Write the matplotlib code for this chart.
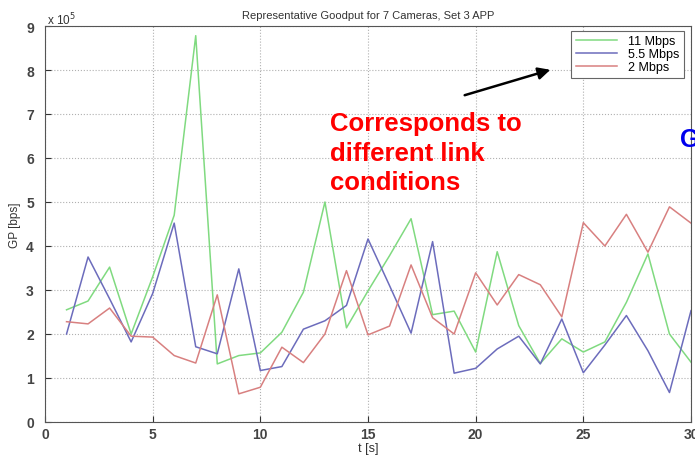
import numpy as np
import matplotlib
matplotlib.use("Agg")
import matplotlib.pyplot as plt
from matplotlib.ticker import FuncFormatter

plt.rcParams['font.family'] = ['Liberation Sans', 'DejaVu Sans']

# time axis [s]
t = list(range(1, 31))

# goodput in units of 1e5 bps
gp_11 = [2.55, 2.75, 3.52, 2.0, 3.3, 4.7, 8.78, 1.32, 1.51, 1.57,
         2.04, 2.95, 5.0, 2.14, 2.98, 3.78, 4.62, 2.44, 2.52, 1.59,
         3.87, 2.19, 1.33, 1.89, 1.59, 1.82, 2.72, 3.82, 2.0, 1.36]
gp_55 = [2.0, 3.75, 2.8, 1.82, 2.92, 4.52, 1.71, 1.55, 3.48, 1.17,
         1.26, 2.11, 2.3, 2.65, 4.16, 3.1, 2.02, 4.1, 1.11, 1.22,
         1.66, 1.95, 1.32, 2.34, 1.12, 1.75, 2.42, 1.62, 0.67, 2.53]
gp_2 = [2.28, 2.23, 2.59, 1.95, 1.93, 1.51, 1.34, 2.89, 0.64, 0.79,
        1.70, 1.35, 2.0, 3.44, 1.98, 2.18, 3.57, 2.37, 2.0, 3.39,
        2.66, 3.35, 3.12, 2.39, 4.53, 4.0, 4.72, 3.86, 4.89, 4.52]
labels = ["11 Mbps", "5.5 Mbps", "2 Mbps"]
colors = ["#80da80", "#6c6cbc", "#d88080"]

fig = plt.figure(figsize=(6.95, 4.56), dpi=100)
ax = fig.add_axes([45 / 695, 1 - 423 / 456, 646 / 695, 396 / 456])

for vals, lab, col in zip([gp_11, gp_55, gp_2], labels, colors):
    ax.plot(t, np.array(vals) * 1e5, color=col, lw=1.1, label=lab)

ax.set_xlim(0, 30)
ax.set_ylim(0, 9e5)
ax.set_xticks(range(0, 31, 5))
ax.set_yticks(np.arange(0, 10) * 1e5)
ax.yaxis.set_major_formatter(FuncFormatter(lambda v, p: f"{v / 1e5:g}"))
ax.tick_params(direction='in', labelsize=10, colors='#333333', length=4)
ax.tick_params(axis='y', pad=8)
for lbl in ax.get_xticklabels() + ax.get_yticklabels():
    lbl.set_fontweight('bold')
    lbl.set_color('#444444')
ax.grid(True, linestyle=':', color='#b0b0b0', lw=0.8)
for s in ax.spines.values():
    s.set_color('#555555')
    s.set_linewidth(0.8)

ax.set_title("Representative Goodput for 7 Cameras, Set 3 APP", fontsize=8, color='#333333', pad=6)
ax.set_xlabel("t [s]", fontsize=9, color='#333333', labelpad=1)
ax.set_ylabel("GP [bps]", fontsize=8.5, color='#333333', labelpad=4)
fig.text(47 / 695, 1 - 20 / 456, r"x 10$^5$", fontsize=8.5, color='#333333', va='center')

leg = ax.legend(loc='upper right', bbox_to_anchor=(684 / 695, 1 - 32 / 456),
                bbox_transform=fig.transFigure, fontsize=9, fancybox=False,
                framealpha=1, edgecolor='#666666', handlelength=3.3,
                borderpad=0.35, labelspacing=0.08, handletextpad=0.9,
                borderaxespad=0)
leg.get_frame().set_linewidth(0.8)

# slide annotation
fig.text(330 / 695, 1 - 112 / 456, "Corresponds to\ndifferent link\nconditions",
         color='red', fontsize=18.5, fontweight='bold', va='top', ha='left',
         linespacing=1.3)
ax.annotate("", xy=(553, 456 - 70), xytext=(462, 456 - 97),
            xycoords='figure pixels', textcoords='figure pixels',
            arrowprops=dict(arrowstyle='-|>', color='black', lw=1.8,
                            mutation_scale=18))
fig.text(680 / 695, 1 - 140 / 456, "G", color='#0000ee', fontsize=18,
         fontweight='bold', va='center', ha='left')

fig.savefig("out.png", dpi=100)
